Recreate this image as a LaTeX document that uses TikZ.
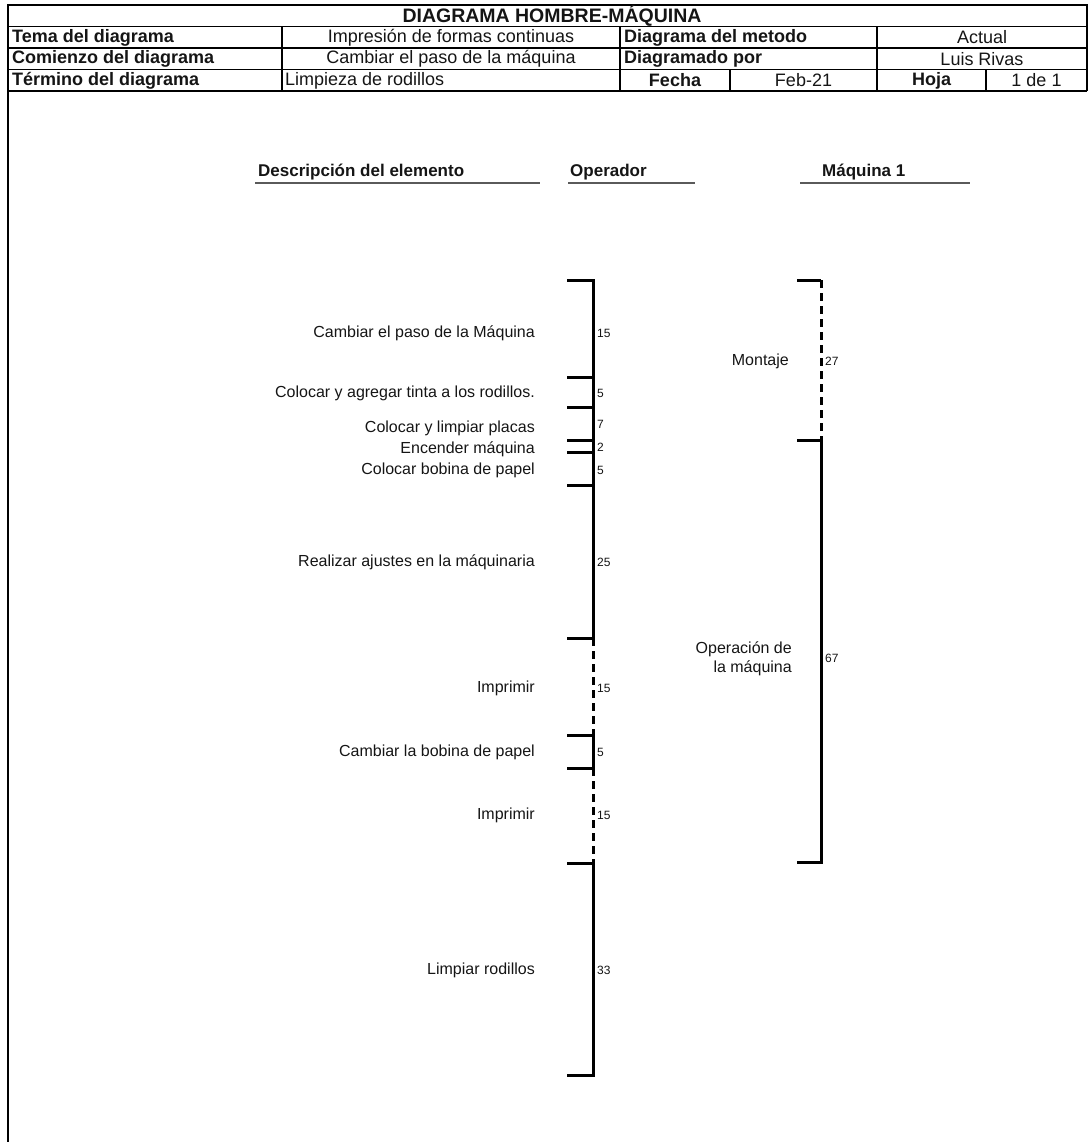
\documentclass[tikz,border=0pt]{standalone}
\usepackage{fontspec}
\setmainfont{Liberation Sans}
\usepackage{xcolor}
\usetikzlibrary{positioning}
\definecolor{ink}{HTML}{151515}
\definecolor{rule}{HTML}{5A5A5A}
\newcommand\celltxt{\fontsize{18}{21}\selectfont}
\newcommand\titletxt{\fontsize{19.5}{22}\selectfont}
\newcommand\headtxt{\fontsize{17}{19}\selectfont}
\newcommand\elemtxt{\fontsize{16}{18.5}\selectfont}
\newcommand\numtxt{\fontsize{12}{13}\selectfont}

\begin{document}
\begin{tikzpicture}[
  x=1pt,y=-1pt,
  grid/.style={draw=black,line width=1.3pt},
  cell/.style={inner sep=0pt,text=ink,font=\celltxt},
  key/.style={cell,font=\celltxt\bfseries},
  head/.style={inner sep=0pt,anchor=west,text=ink,font=\headtxt\bfseries},
  underline/.style={line width=1.8pt,draw=rule},
  elem/.style={inner sep=0pt,anchor=east,align=right,text=ink,font=\elemtxt},
  tiempo/.style={inner sep=0pt,anchor=west,text=ink,font=\numtxt},
  bar/.style={draw=black,line width=3pt},
  idle/.style={draw=black,line width=3pt,dash pattern=on 8pt off 5pt}
]
\useasboundingbox (0,0) rectangle (1091,1142);

% encabezado
\draw[grid] (8,1142) -- (8,5) -- (1087,5) -- (1087,91);
\draw[grid] (8,26.5) -- (1087,26.5);
\draw[grid] (8,48) -- (1087,48);
\draw[grid] (8,69.5) -- (1087,69.5);
\draw[grid] (8,91) -- (1087,91);
\draw[grid] (282,26.5) -- (282,91);
\draw[grid] (620,26.5) -- (620,91);
\draw[grid] (877,26.5) -- (877,91);
\draw[grid] (730,69.5) -- (730,91);
\draw[grid] (986,69.5) -- (986,91);

\node[cell,font=\titletxt\bfseries] (titulo) at (552,16) {DIAGRAMA HOMBRE-MÁQUINA};
\node[key,anchor=west] (tema) at (12,37.5) {Tema del diagrama};
\node[cell] (temaval) at (451,37.5) {Impresión de formas continuas};
\node[key,anchor=west] (metodo) at (624,37.5) {Diagrama del metodo};
\node[cell] (metodoval) at (982,37.5) {Actual};
\node[key,anchor=west] (comienzo) at (12,59) {Comienzo del diagrama};
\node[cell] (comienzoval) at (451,59) {Cambiar el paso de la máquina};
\node[key,anchor=west] (autor) at (624,59) {Diagramado por};
\node[cell] (autorval) at (982,59) {Luis Rivas};
\node[key,anchor=west] (termino) at (12,80.5) {Término del diagrama};
\node[cell,anchor=west] (terminoval) at (285,80.5) {Limpieza de rodillos};
\node[key] (fecha) at (675,80.5) {Fecha};
\node[cell] (fechaval) at (803.5,80.5) {Feb-21};
\node[key] (hoja) at (931.5,80.5) {Hoja};
\node[cell] (hojaval) at (1036.5,80.5) {1 de 1};

% columnas
\node[head] (descr) at (258,172) {Descripción del elemento};
\node[head] (oper) at (570,172) {Operador};
\node[head] (maq) at (822,172) {Máquina 1};
\draw[underline] (255,183) -- (540,183);
\draw[underline] (568,183) -- (695,183);
\draw[underline] (800,183) -- (970,183);

% operador
\coordinate (o1) at (593,280);  \coordinate (t1) at (567,280);
\coordinate (o2) at (593,377);  \coordinate (t2) at (567,377);
\coordinate (o3) at (593,407);  \coordinate (t3) at (567,407);
\coordinate (o4) at (593,440);  \coordinate (t4) at (567,440);
\coordinate (o5) at (593,452);  \coordinate (t5) at (567,452);
\coordinate (o6) at (593,485);  \coordinate (t6) at (567,485);
\coordinate (o7) at (593,638);  \coordinate (t7) at (567,638);
\coordinate (o8) at (593,735);  \coordinate (t8) at (567,735);
\coordinate (o9) at (593,768);  \coordinate (t9) at (567,768);
\coordinate (o10) at (593,863); \coordinate (t10) at (567,863);
\coordinate (o11) at (593,1075); \coordinate (t11) at (567,1075);

\draw[bar] (t1) -- (o1) -- (o7) -- (t7);
\draw[bar] (t2) -- (o2);
\draw[bar] (t3) -- (o3);
\draw[bar] (t4) -- (o4);
\draw[bar] (t5) -- (o5);
\draw[bar] (t6) -- (o6);
\draw[idle] (o7) -- (o8);
\draw[bar] (t8) -- (o8) -- (o9) -- (t9);
\draw[idle] (o9) -- (o10);
\draw[bar] (t10) -- (o10) -- (o11) -- (t11);

\node[elem] (paso) at (535,333) {Cambiar el paso de la Máquina};
\node[elem] (tinta) at (535,393) {Colocar y agregar tinta a los rodillos.};
\node[elem] (placas) at (535,428) {Colocar y limpiar placas};
\node[elem] (encender) at (535,449) {Encender máquina};
\node[elem] (bobina) at (535,470) {Colocar bobina de papel};
\node[elem] (ajustes) at (535,562) {Realizar ajustes en la máquinaria};
\node[elem] (imprimir1) at (535,688) {Imprimir};
\node[elem] (cambio) at (535,752) {Cambiar la bobina de papel};
\node[elem] (imprimir2) at (535,815) {Imprimir};
\node[elem] (limpiar) at (535,970) {Limpiar rodillos};

\node[tiempo] (tpaso) at (597,333) {15};
\node[tiempo] (ttinta) at (597,393) {5};
\node[tiempo] (tplacas) at (597,424) {7};
\node[tiempo] (tencender) at (597,447) {2};
\node[tiempo] (tbobina) at (597,470) {5};
\node[tiempo] (tajustes) at (597,562) {25};
\node[tiempo] (timprimir1) at (597,688) {15};
\node[tiempo] (tcambio) at (597,752) {5};
\node[tiempo] (timprimir2) at (597,815) {15};
\node[tiempo] (tlimpiar) at (597,970) {33};

% maquina
\coordinate (m1) at (821,280); \coordinate (u1) at (797,280);
\coordinate (m2) at (821,440); \coordinate (u2) at (797,440);
\coordinate (m3) at (821,862); \coordinate (u3) at (797,862);

\draw[bar] (u1) -- (m1);
\draw[idle] (m1) -- (m2);
\draw[bar] (u2) -- (m2) -- (m3) -- (u3);

\node[elem] (montaje) at (789,361) {Montaje};
\node[elem] (operacion) at (792,659) {Operación de\\la máquina};
\node[tiempo] (tmontaje) at (825,361) {27};
\node[tiempo] (toperacion) at (825,658) {67};
\end{tikzpicture}
\end{document}
